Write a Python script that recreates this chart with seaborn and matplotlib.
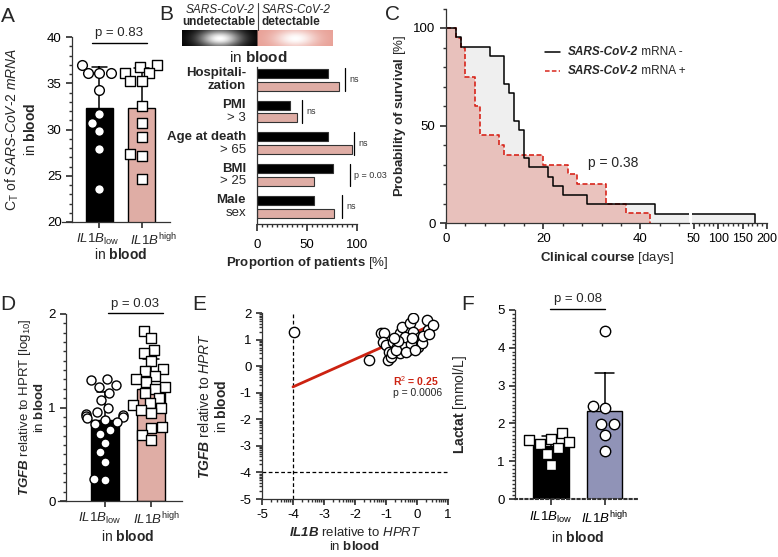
import numpy as np
import pandas as pd
import matplotlib
matplotlib.use('Agg')
import matplotlib.pyplot as plt
import matplotlib.transforms as mtrans
from matplotlib.ticker import MultipleLocator, FixedLocator
from matplotlib.lines import Line2D
import seaborn as sns

# ---------------- data ----------------
groups = ['low', 'high']
group_labels = ['$\\mathit{IL1B}_{\\mathrm{low}}$', '$\\mathit{IL1B}^{\\mathrm{high}}$']

# A: Ct of SARS-CoV-2 mRNA
ct_low = [37.0, 36.1, 36.1, 36.1, 34.3, 31.7, 30.7, 29.8, 27.9, 23.6]
ct_high = [37.0, 36.8, 36.1, 36.1, 35.2, 35.2, 32.5, 30.7, 29.2, 27.4, 27.1, 24.6]

# B: proportion of patients
b_labels = [('Hospitali-', 'zation'), ('PMI', '> 3'), ('Age at death', '> 65'),
            ('BMI', '> 25'), ('Male', 'sex')]
b_neg = [71, 33, 71, 76, 57]
b_pos = [82, 40, 95, 57, 77]
b_sig = ['ns', 'ns', 'ns', 'p = 0.03', 'ns']
b_sig_x = [88, 45, 97, 93, 85]

# C: Kaplan-Meier
km_neg_t = [0, 2, 3, 9, 12, 13, 14, 15, 16, 17, 21, 22, 24, 29, 43, 176]
km_neg_s = [100, 95.2, 90.5, 85.7, 71.4, 66.7, 52.4, 47.6, 33.3, 28.6, 23.8, 19.0, 14.3, 9.5, 4.8, 0]
km_pos_t = [0, 2, 3, 4, 6, 7, 11, 12, 20, 25, 27, 33, 37, 42]
km_pos_s = [100, 95, 90, 75, 60, 45, 40, 35, 30, 25, 20, 10, 5, 0]

# D: TGFB
tgfb_low = [1.30, 1.29, 1.24, 1.22, 1.16, 1.08, 0.99, 0.95, 0.93, 0.92, 0.91, 0.90,
            0.89, 0.87, 0.85, 0.82, 0.76, 0.72, 0.62, 0.52, 0.42, 0.23, 0.22]
tgfb_high = [1.82, 1.74, 1.62, 1.58, 1.50, 1.41, 1.39, 1.34, 1.30, 1.27, 1.22, 1.20,
             1.15, 1.10, 1.05, 1.03, 0.99, 0.97, 0.94, 0.79, 0.78, 0.71, 0.65]

# E: correlation
e_il1b = [-3.97, -1.55, -1.16, -1.05, -1.09, -1.00, -0.89, -0.92, -0.85, -0.76, -0.65,
          -0.55, -0.49, -0.23, -0.12, -0.33, -0.06, 0.10, -0.28, -0.55, 0.04, 0.15,
          0.31, 0.36, 0.52, -0.82, -0.42, -0.68, -0.12, -0.40, -0.20, -0.60, 0.20,
          -0.35, -0.05, 0.40, -0.75, -0.15]
e_tgfb = [1.27, 0.23, 1.24, 1.26, 0.92, 0.80, 0.55, 0.23, 0.35, 0.92, 0.73,
          1.24, 1.48, 1.61, 1.30, 0.98, 0.98, 1.11, 0.61, 0.48, 0.73, 0.86,
          1.74, 1.36, 1.55, 0.48, 0.80, 0.60, 1.80, 1.10, 0.85, 0.95, 1.15,
          0.55, 0.62, 1.20, 1.05, 1.05]
fit_slope = 0.52
fit_icpt = 1.30
fit_range = [-4.0, 0.55]

# F: lactate
lac_low = [1.75, 1.60, 1.55, 1.50, 1.45, 1.35, 1.20, 0.90]
lac_high = [4.45, 2.47, 2.40, 1.98, 1.98, 1.68, 1.28]

PINK = '#e8a69c'
PURPLE = '#8a8dbd'
RED = '#d8261c'

# ---------------- style ----------------
sns.set_theme(style='ticks')
plt.rcParams['font.family'] = ['Liberation Sans', 'DejaVu Sans']
plt.rcParams['mathtext.fontset'] = 'custom'
plt.rcParams['mathtext.rm'] = 'Liberation Sans'
plt.rcParams['mathtext.it'] = 'Liberation Sans:italic'
plt.rcParams['mathtext.bf'] = 'Liberation Sans:bold'
plt.rcParams['mathtext.bfit'] = 'Liberation Sans:italic:bold'
plt.rcParams['axes.unicode_minus'] = False
plt.rcParams['axes.edgecolor'] = '#333333'
plt.rcParams['axes.linewidth'] = 0.9
plt.rcParams['xtick.color'] = '#333333'
plt.rcParams['ytick.color'] = '#333333'
plt.rcParams['xtick.labelcolor'] = 'black'
plt.rcParams['ytick.labelcolor'] = 'black'
plt.rcParams['xtick.major.size'] = 4
plt.rcParams['ytick.major.size'] = 4
plt.rcParams['xtick.minor.size'] = 2
plt.rcParams['ytick.minor.size'] = 2

W, H = 778, 557
fig = plt.figure(figsize=(W / 100, H / 100), dpi=100)


def box(l, t, r, b):
    return [l / W, 1 - b / H, (r - l) / W, (b - t) / H]


def ftext(x, y, s, **kw):
    kw.setdefault('va', 'center')
    return fig.text(x / W, 1 - y / H, s, **kw)


def fline(xs, ys, **kw):
    fig.add_artist(Line2D([x / W for x in xs], [1 - y / H for y in ys], **kw))


def clean(ax):
    sns.despine(ax=ax)
    ax.tick_params(labelsize=9.5)


def ylab(ax, s, right_px, fontsize=10, linespacing=1.2):
    # right_px: pixel x of the right edge of the (rotated) label block
    ax.set_ylabel(s, fontsize=fontsize, linespacing=linespacing)
    l = ax.get_position().x0 * W
    w = ax.get_position().width * W
    ax.yaxis.set_label_coords((right_px - l) / w, 0.5)


def bar_dots(ax, low, high, colors, markers, width, dot_size, label_x=None,
             xlabel_pos=None):
    df = pd.DataFrame({'group': ['low'] * len(low) + ['high'] * len(high),
                       'value': list(low) + list(high)})
    sns.barplot(data=df, x='group', y='value', hue='group', order=groups,
                palette=colors, legend=False, errorbar='sd', capsize=0.35,
                width=width, edgecolor='black', linewidth=1,
                err_kws={'color': 'black', 'linewidth': 1.1}, ax=ax)
    for ln in ax.lines:
        ln.set_zorder(0.5)
    for g, mk in zip(groups, markers):
        sns.swarmplot(data=df[df['group'] == g], x='group', y='value', order=groups,
                      marker=mk, color='white', edgecolor='black', linewidth=1,
                      size=dot_size, ax=ax, zorder=3, warn_thresh=1)
    ax.set_xticks([0, 1])
    ax.set_xlabel('in $\\mathbf{blood}$', fontsize=10, labelpad=3)
    if label_x is None:
        ax.set_xticklabels(group_labels, fontsize=10)
    else:
        ax.set_xticklabels(['', ''])
        tr = mtrans.blended_transform_factory(ax.transData, ax.transAxes)
        for xx, s in zip(label_x, group_labels):
            ax.annotate(s, xy=(xx, 0), xycoords=tr, xytext=(0, -7),
                        textcoords='offset points', ha='center', va='top',
                        fontsize=9.5, annotation_clip=False)
        ax.xaxis.set_label_coords(*xlabel_pos)
    clean(ax)


# ---------------- A ----------------
axA = fig.add_axes(box(62, 37, 170, 222))
bar_dots(axA, ct_low, ct_high, ['black', PINK], ['o', 's'], 0.65, 7,
         label_x=[-0.03, 1.28], xlabel_pos=(0.546, -0.135))
axA.set_xlim(-0.88, 1.67)
axA.set_ylim(20, 40)
axA.yaxis.set_major_locator(MultipleLocator(5))
axA.yaxis.set_minor_locator(MultipleLocator(1))
axA.spines['left'].set_position(('axes', 0.093))
ylab(axA, 'C$_\\mathrm{T}$ of $\\mathit{SARS}$-$\\mathit{CoV}$-$\\mathit{2\\ mRNA}$\nin $\\mathbf{blood}$', 38)
fline([92, 147], [43, 43], color='black', lw=1)
ftext(119, 33, 'p = 0.83', ha='center', fontsize=9.5)

# ---------------- B ----------------
axBh = fig.add_axes(box(182, 30, 333, 46))
ny, nx = 20, 300
yy, xx = np.mgrid[0:ny, 0:nx]
img = np.zeros((ny, nx, 3))
half = nx / 2
for k, edge in enumerate([np.array([0, 0, 0]), np.array([232, 160, 150]) / 255]):
    cx = half * k + half / 2
    w = np.exp(-((xx - cx) / (half * 0.28)) ** 2 - ((yy - ny / 2) / (ny * 0.55)) ** 2)
    sel = (xx >= half * k) & (xx < half * (k + 1))
    for c in range(3):
        img[..., c] = np.where(sel, edge[c] * (1 - w) + w, img[..., c])
axBh.imshow(img, aspect='auto', interpolation='bilinear')
axBh.axis('off')
fline([258, 258], [3, 30], color='#444444', lw=0.8)
ftext(255, 10, 'SARS-CoV-2', ha='right', style='italic', fontsize=8.5)
ftext(255, 22, 'undetectable', ha='right', weight='bold', fontsize=8.5)
ftext(262, 10, 'SARS-CoV-2', ha='left', style='italic', fontsize=8.5)
ftext(262, 22, 'detectable', ha='left', weight='bold', fontsize=8.5)
ftext(258, 57, 'in $\\mathbf{blood}$', ha='center', fontsize=11)

axB = fig.add_axes(box(257, 67, 357, 224))
cats = [a + ' ' + b for a, b in b_labels]
dfB = pd.DataFrame({'cat': cats * 2,
                    'status': ['neg'] * 5 + ['pos'] * 5,
                    'value': b_neg + b_pos})
sns.barplot(data=dfB, y='cat', x='value', hue='status', order=cats, orient='h',
            palette=['black', PINK], edgecolor='#333333', linewidth=0.8,
            gap=0.3, legend=False, ax=axB)
axB.set_xlim(0, 100)
axB.set_ylim(4.54, -0.40)
axB.set_yticks([])
axB.set_ylabel('')
axB.xaxis.set_major_locator(FixedLocator([0, 50, 100]))
axB.xaxis.set_minor_locator(MultipleLocator(5))
axB.set_xlabel('$\\mathbf{Proportion\\ of\\ patients}$ [%]', fontsize=9.5, labelpad=3)
clean(axB)
axB.tick_params(axis='x', which='major', length=5, pad=6)
trB = mtrans.blended_transform_factory(axB.transAxes, axB.transData)
for i, (l1, l2) in enumerate(b_labels):
    bold2 = 'bold' if i == 0 else 'normal'
    axB.text(-0.11, i - 0.2, l1, transform=trB, ha='right', va='center',
             fontsize=9.5, weight='bold')
    axB.text(-0.11, i + 0.2, l2, transform=trB, ha='right', va='center',
             fontsize=9.5, weight=bold2)
    axB.plot([b_sig_x[i]] * 2, [i - 0.36, i + 0.36], color='black', lw=0.9,
             clip_on=False)
    axB.text(b_sig_x[i] + 4, i, b_sig[i], ha='left', va='center', fontsize=6.5,
             color='#333333', clip_on=False)

# ---------------- C ----------------
axC1 = fig.add_axes(box(446, 8.5, 689, 223))
axC2 = fig.add_axes(box(692, 8.5, 767, 223))
for ax in (axC1, axC2):
    ax.fill_between(km_neg_t, km_neg_s, step='post', color='#efefef', lw=0)
    ax.fill_between(km_pos_t, km_pos_s, step='post', color='#e7b9b3', alpha=0.85, lw=0)
    sns.lineplot(x=km_pos_t, y=km_pos_s, drawstyle='steps-post', color=RED,
                 linewidth=1.2, linestyle=(0, (3, 1.5)), estimator=None, ax=ax)
    sns.lineplot(x=km_neg_t, y=km_neg_s, drawstyle='steps-post', color='black',
                 linewidth=1.1, estimator=None, ax=ax)
    ax.set_ylim(0, 110)
    clean(ax)
axC1.set_xlim(0, 50)
axC1.xaxis.set_major_locator(FixedLocator([0, 20, 40]))
axC1.xaxis.set_minor_locator(MultipleLocator(4))
axC1.yaxis.set_major_locator(FixedLocator([0, 50, 100]))
axC1.yaxis.set_minor_locator(MultipleLocator(10))
ylab(axC1, '$\\mathbf{Probability\\ of\\ survival}$ [%]', 408, fontsize=9.5)
axC2.set_xlim(46, 200)
axC2.xaxis.set_major_locator(FixedLocator([50, 100, 150, 200]))
axC2.xaxis.set_minor_locator(MultipleLocator(10))
axC2.tick_params(axis='x', labelsize=9)
axC2.spines['left'].set_visible(False)
axC2.set_yticks([])

# legend drawn as separate pieces so the styles can be mixed
for yy_, col, ls, sign in [(52, 'black', '-', '-'), (71, RED, (0, (3, 1.5)), '+')]:
    fline([545, 560], [yy_, yy_], color=col, lw=1.1, ls=ls)
    t1 = ftext(568, yy_, 'SARS-CoV-2', ha='left', weight='bold', style='italic',
               fontsize=8.5)
    axC1.annotate(' mRNA ' + sign, xy=(1, 0), xycoords=t1, ha='left', va='bottom',
                  fontsize=8.5, annotation_clip=False)
ftext(588, 163, 'p = 0.38', ha='left', fontsize=10)
ftext(607, 258, '$\\mathbf{Clinical\\ course}$ [days]', ha='center', fontsize=9.5)

# ---------------- D ----------------
axD = fig.add_axes(box(58, 314, 182, 501))
bar_dots(axD, tgfb_low, tgfb_high, ['black', PINK], ['o', 's'], 0.6, 6.5,
         label_x=[-0.12, 1.12], xlabel_pos=(0.565, -0.15))
axD.set_xlim(-1.01, 1.66)
axD.set_ylim(0, 2)
axD.yaxis.set_major_locator(MultipleLocator(1))
axD.yaxis.set_minor_locator(MultipleLocator(0.1))
axD.spines['left'].set_position(('axes', 0.065))
ylab(axD, '$\\mathbfit{TGFB}$ relative to HPRT [log$_{10}$]\nin $\\mathbf{blood}$', 46,
     fontsize=9.5, linespacing=1.0)
fline([108, 163], [313, 313], color='black', lw=1)
ftext(135, 304, 'p = 0.03', ha='center', fontsize=9.5)

# ---------------- E ----------------
axE = fig.add_axes(box(262, 313, 448, 499))
sns.scatterplot(x=e_il1b, y=e_tgfb, marker='o', s=55, color='white',
                edgecolor='black', linewidth=1, ax=axE, zorder=3)
xs = np.array(fit_range)
axE.plot(xs, fit_slope * xs + fit_icpt, color='#cc2211', lw=2, zorder=2)
axE.axvline(-4, color='black', lw=0.9, ls=(0, (3, 2)), zorder=1)
axE.axhline(-4, color='black', lw=0.9, ls=(0, (3, 2)), zorder=1)
axE.set_xlim(-5, 1)
axE.set_ylim(-5, 2)
axE.xaxis.set_major_locator(MultipleLocator(1))
axE.yaxis.set_major_locator(MultipleLocator(1))
logm = np.log10(np.arange(2, 10))
axE.xaxis.set_minor_locator(FixedLocator([k + m for k in range(-5, 1) for m in logm]))
axE.yaxis.set_minor_locator(FixedLocator([k + m for k in range(-5, 2) for m in logm]))
axE.set_xlabel('$\\mathbfit{IL1B}$ relative to $\\mathit{HPRT}$\nin $\\mathbf{blood}$',
               fontsize=9.5, labelpad=3, linespacing=1.1)
ylab(axE, '$\\mathbfit{TGFB}$ relative to $\\mathit{HPRT}$\nin $\\mathbf{blood}$', 229)
clean(axE)
ftext(393, 381, 'R$^2$ = 0.25', ha='left', fontsize=7.5, color='#cc2211', weight='bold')
ftext(393, 393, 'p = 0.0006', ha='left', fontsize=7.5)

# ---------------- F ----------------
axF = fig.add_axes(box(515, 310, 640, 499))
bar_dots(axF, lac_low, lac_high, ['black', PURPLE], ['s', 'o'], 0.66, 7.5)
axF.set_xlim(-0.67, 1.66)
axF.set_ylim(0, 5)
axF.yaxis.set_major_locator(MultipleLocator(1))
axF.yaxis.set_minor_locator(MultipleLocator(0.1))
axF.spines['bottom'].set_linestyle((0, (1, 1.5)))
axF.spines['bottom'].set_linewidth(1.5)
ylab(axF, '$\\mathbf{Lactat}$ [mmol/L]', 469)
fline([550, 605], [309, 309], color='black', lw=1)
ftext(578, 299, 'p = 0.08', ha='center', fontsize=9.5)

# panel letters
for s, x, y in [('A', 8, 16), ('B', 166, 14), ('C', 392, 14),
                ('D', 8, 305), ('E', 199, 305), ('F', 468, 305)]:
    ftext(x, y, s, fontsize=15, ha='center')

fig.savefig('out.png', dpi=100)
